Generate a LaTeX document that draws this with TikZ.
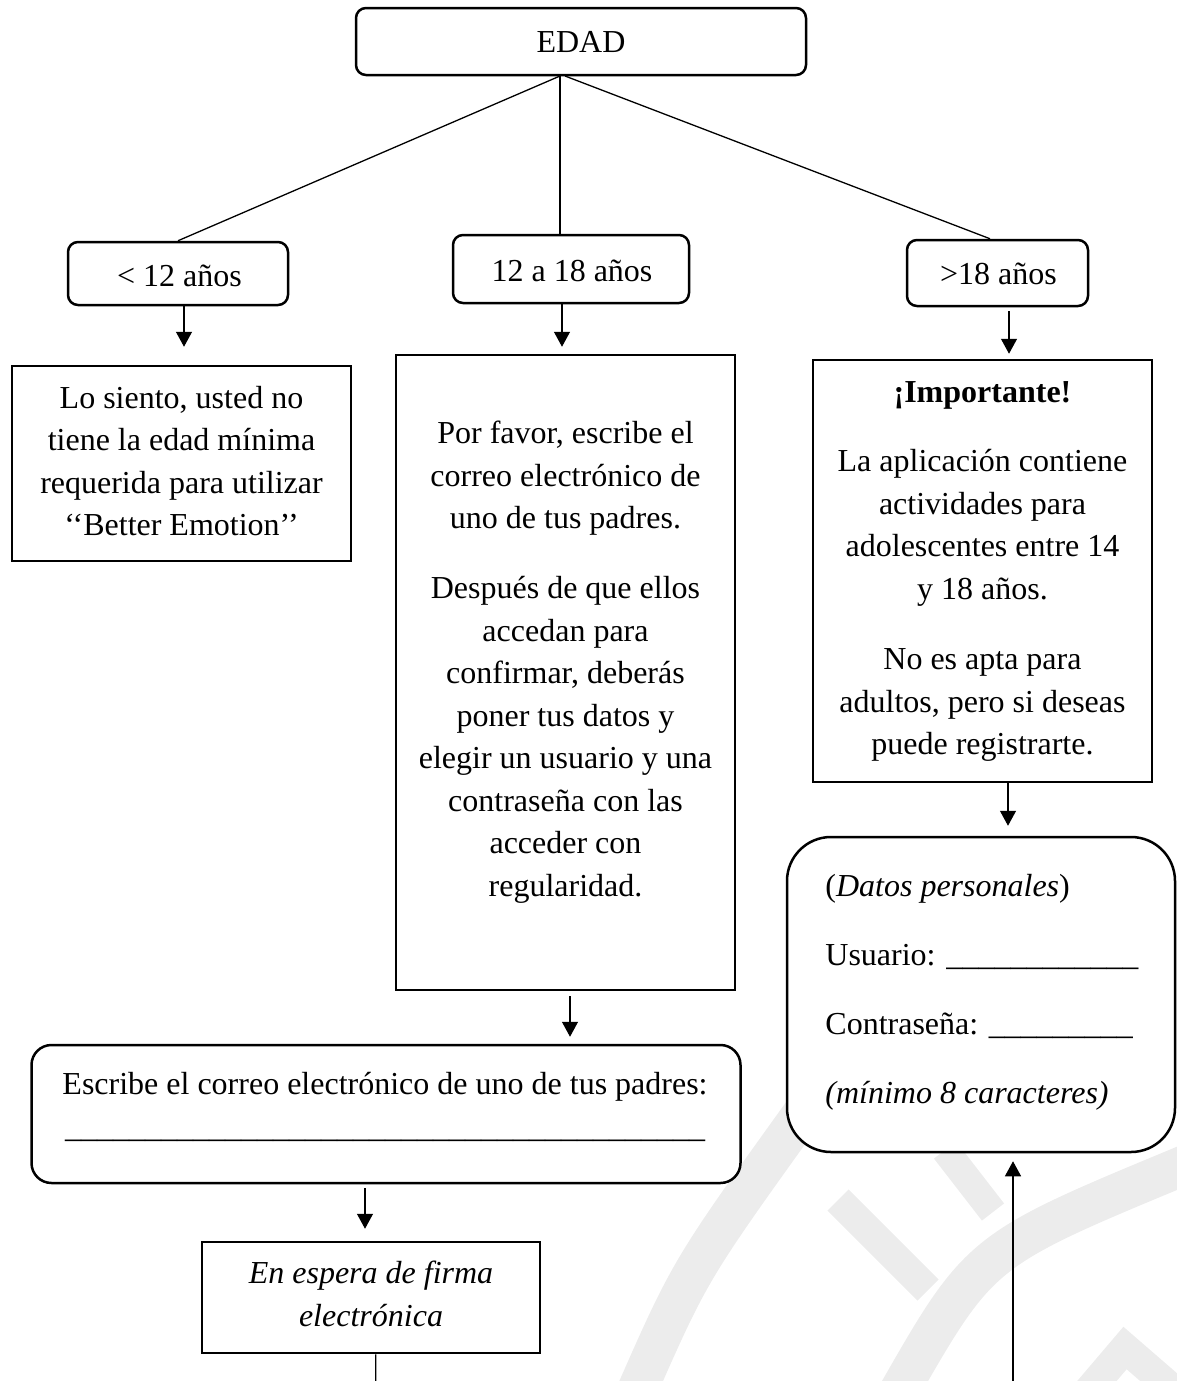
\documentclass[tikz,border=0pt]{standalone}
\usepackage{fontspec}
\setmainfont{Liberation Serif}
\usetikzlibrary{arrows.meta}
\begin{document}
\begin{tikzpicture}[x=0.5pt,y=-0.5pt,
  box/.style={draw, line width=1.25pt, inner sep=0pt, fill=white},
  rbox/.style={box, rounded corners=5pt},
  txt/.style={inner sep=0pt, align=center, font=\fontsize{16pt}{21.25pt}\selectfont},
  ltxt/.style={inner sep=0pt, align=left, font=\fontsize{16pt}{21.25pt}\selectfont},
  conn/.style={line width=0.65pt},
  arr/.style={conn, -{Triangle[length=7.5pt,width=8pt]}},
  wm/.style={draw=gray!15, line cap=butt}
]
\useasboundingbox (0,0) rectangle (1177,1381);
% watermark
\draw[wm, line width=20pt] (635,1395) .. controls (690,1270) .. (805,1110);
\draw[wm, line width=15pt] (838,1200) -- (928,1290);
\draw[wm, line width=14pt] (945,1150) -- (993,1212);
\draw[wm, line width=20pt] (897,1395) .. controls (980,1250) .. (1185,1165);
\draw[wm, line width=15pt] (1085,1395) -- (1125,1348) -- (1185,1400);

% boxes
\node[rbox, minimum width=225pt, minimum height=33.5pt] (edad) at (581,41.5) {};
\node[rbox, minimum width=110pt, minimum height=31.5pt] (kid) at (178,273.5) {};
\node[rbox, minimum width=118pt, minimum height=34pt] (teen) at (571,269) {};
\node[rbox, minimum width=90.5pt, minimum height=33pt] (adult) at (997.5,273) {};
\node[box, minimum width=169.5pt, minimum height=97.5pt] (sorry) at (181.5,463.5) {};
\node[box, minimum width=169.5pt, minimum height=317.5pt] (favor) at (565.5,672.5) {};
\node[box, minimum width=169.5pt, minimum height=211pt] (imp) at (982.5,571) {};
\node[box, rounded corners=22pt, minimum width=194pt, minimum height=157.5pt] (datos) at (981,994.5) {};
\node[box, rounded corners=10pt, minimum width=354.5pt, minimum height=69pt] (escribe) at (386,1114) {};
\node[box, minimum width=169pt, minimum height=55.5pt] (espera) at (371,1297.5) {};

% texts
\node[txt] (edadt) at (581,42.4) {EDAD};
\node[txt] (kidt) at (179.5,276) {< 12 años};
\node[txt] (teent) at (572,271) {12 a 18 años};
\node[txt] (adultt) at (998.5,274) {>18 años};
\node[txt] (sorryt) at (181.5,461) {Lo siento, usted no\\tiene la edad mínima\\requerida para utilizar\\‘{}‘Better Emotion’{}’};
\node[txt] (favort) at (565.5,662) {Por favor, escribe el\\correo electrónico de\\uno de tus padres.\\[13.75pt]Después de que ellos\\accedan para\\confirmar, deberás\\poner tus datos y\\elegir un usuario y una\\contraseña con las\\acceder con\\regularidad.};
\node[txt] (impt) at (982.5,571.6) {\textbf{¡Importante!}\\[13.25pt]La aplicación contiene\\actividades para\\adolescentes entre 14\\y 18 años.\\[14pt]No es apta para\\adultos, pero si deseas\\puede registrarte.};
\node[ltxt, anchor=west] (datost) at (825,992.5) {(\textit{Datos personales})\\[13.25pt]Usuario: \_\_\_\_\_\_\_\_\_\_\_\_\\[13.25pt]Contraseña: \_\_\_\_\_\_\_\_\_\\[13.25pt]\textit{(mínimo 8 caracteres)}};
\node[txt] (escribet) at (385,1107) {Escribe el correo electrónico de uno de tus padres:\\\_\_\_\_\_\_\_\_\_\_\_\_\_\_\_\_\_\_\_\_\_\_\_\_\_\_\_\_\_\_\_\_\_\_\_\_\_\_\_\_};
\node[txt] (esperat) at (371,1294) {\textit{En espera de firma}\\\textit{electrónica}};

% connectors
\coordinate (e0) at (560,76);
\coordinate (e1) at (565,76);
\draw[conn] (e0) -- (kid.north);
\draw[conn] (e0) -- (e0 |- teen.north);
\draw[conn] (e1) -- ([xshift=-3.75pt]adult.north);

\coordinate (a1) at ([xshift=3pt]kid.south);
\draw[arr, shorten >=9pt] (a1) -- (a1 |- sorry.north);
\coordinate (a2) at ([xshift=-4.5pt]teen.south);
\draw[arr, shorten >=3.5pt] (a2) -- (a2 |- favor.north);
\coordinate (a3) at ([xshift=5.75pt]adult.south);
\draw[arr, shorten >=2.5pt, shorten <=2pt] (a3) -- (a3 |- imp.north);
\coordinate (a4) at ([xshift=12.75pt]imp.south);
\draw[arr, shorten >=5pt] (a4) -- (a4 |- datos.north);
\coordinate (a5) at ([xshift=2.25pt]favor.south);
\draw[arr, shorten >=3.5pt, shorten <=2.5pt] (a5) -- (a5 |- escribe.north);
\coordinate (a6) at ([xshift=-10.5pt]escribe.south);
\draw[arr, shorten >=6pt, shorten <=2pt] (a6) -- (a6 |- espera.north);
\coordinate (a7) at ([xshift=2.35pt]espera.south);
\coordinate (bot1) at (375.7,1381);
\draw[conn] (a7) -- (bot1);
\coordinate (bot2) at (1013,1381);
\draw[arr, shorten >=4pt] (bot2) -- (bot2 |- datos.south);
\end{tikzpicture}
\end{document}
